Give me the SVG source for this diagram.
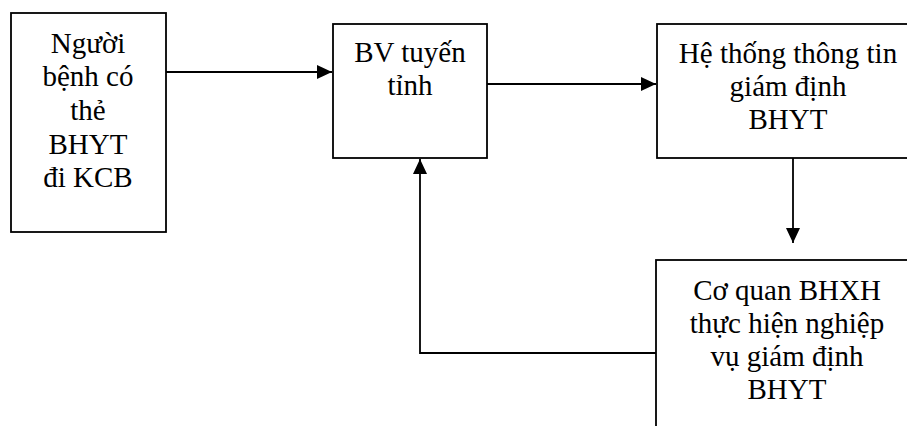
<svg xmlns="http://www.w3.org/2000/svg" width="907" height="426" viewBox="0 0 907 426">
  <style>
    .box { fill: #ffffff; stroke: #000000; stroke-width: 1.8; }
    .lbl { font-family: 'Liberation Serif', Tinos, 'Times New Roman', 'DejaVu Serif', serif; font-size: 29px; fill: #000000; text-anchor: middle; }
    .wire { fill: none; stroke: #000000; stroke-width: 1.8; }
  </style>
  <defs>
    <marker id="head" viewBox="0 0 15 14" refX="15" refY="7" markerWidth="15" markerHeight="14" markerUnits="userSpaceOnUse" orient="auto">
      <path d="M0,0 L15,7 L0,14 Z" fill="#000000"/>
    </marker>
  </defs>
  <rect width="907" height="426" fill="#ffffff"/>

  <!-- flow connectors -->
  <g id="connectors">
    <path class="wire" d="M166,72 L332,72" marker-end="url(#head)"/>
    <path class="wire" d="M487,84 L656,84" marker-end="url(#head)"/>
    <path class="wire" d="M793,158 L793,243" marker-end="url(#head)"/>
    <path class="wire" d="M656,353 L420,353 L420,159" marker-end="url(#head)"/>
  </g>

  <!-- patient -->
  <g id="patient">
    <rect class="box" x="11" y="13" width="155" height="219"/>
    <text class="lbl" x="88" y="53">Người</text>
    <text class="lbl" x="88" y="86">bệnh có</text>
    <text class="lbl" x="88" y="120">thẻ</text>
    <text class="lbl" x="88" y="154">BHYT</text>
    <text class="lbl" x="88" y="187">đi KCB</text>
  </g>

  <!-- provincial hospital -->
  <g id="hospital">
    <rect class="box" x="333" y="24" width="154" height="134"/>
    <text class="lbl" x="410" y="62">BV tuyến</text>
    <text class="lbl" x="410" y="95">tỉnh</text>
  </g>

  <!-- assessment information system -->
  <g id="info-system">
    <rect class="box" x="657" y="24" width="270" height="134"/>
    <text class="lbl" x="788" y="63">Hệ thống thông tin</text>
    <text class="lbl" x="788" y="96">giám định</text>
    <text class="lbl" x="788" y="129">BHYT</text>
  </g>

  <!-- social insurance agency -->
  <g id="agency">
    <rect class="box" x="656" y="260" width="270" height="190"/>
    <text class="lbl" x="787" y="300">Cơ quan BHXH</text>
    <text class="lbl" x="787" y="333">thực hiện nghiệp</text>
    <text class="lbl" x="787" y="366">vụ giám định</text>
    <text class="lbl" x="787" y="399">BHYT</text>
  </g>
</svg>
